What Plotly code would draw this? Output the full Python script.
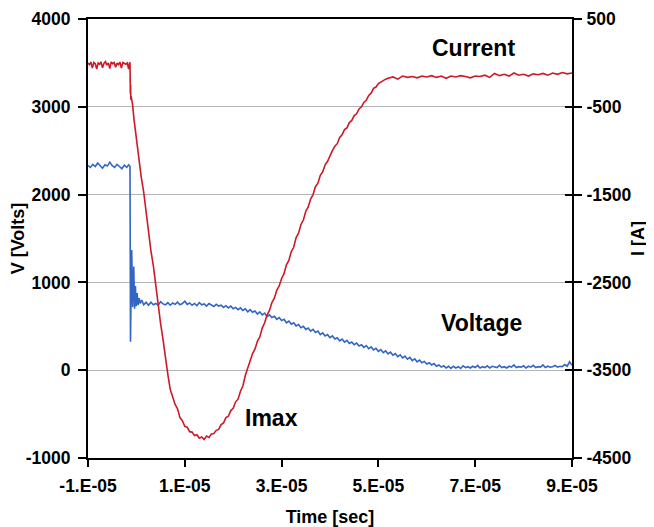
import plotly.graph_objects as go

# ---- data (time in microseconds) ----
current_t = [-10.0, -9.7, -9.4, -9.1, -8.8, -8.5, -8.2, -7.9, -7.6, -7.3, -7.0, -6.7, -6.4, -6.1,
             -5.8, -5.5, -5.2, -4.9, -4.6, -4.3, -4.0, -3.7, -3.4, -3.1, -2.8, -2.5, -2.2, -1.9,
             -1.6, -1.4, -1.32, -1.25, -1.2, -1.15, -1.1, -0.8, -0.5, 0.0, 0.5, 1.0, 1.5, 2.0, 2.5,
             3.0, 3.5, 4.0, 4.5, 5.0, 5.5, 6.0, 6.5, 7.0, 7.5, 8.0, 8.5, 9.0, 9.5, 10.0, 10.5,
             11.0, 11.5, 12.0, 12.5, 13.0, 13.5, 14.0, 14.5, 15.0, 15.5, 16.0, 16.5, 17.0, 17.5,
             18.0, 18.5, 19.0, 19.5, 20.0, 20.5, 21.0, 21.5, 22.0, 22.5, 23.0, 23.5, 24.0, 24.5,
             25.0, 25.5, 26.0, 26.5, 27.0, 27.5, 28.0, 28.5, 29.0, 29.5, 30.0, 30.5, 31.0, 31.5,
             32.0, 32.5, 33.0, 33.5, 34.0, 34.5, 35.0, 35.5, 36.0, 36.5, 37.0, 37.5, 38.0, 38.5,
             39.0, 39.5, 40.0, 40.5, 41.0, 41.5, 42.0, 42.5, 43.0, 43.5, 44.0, 44.5, 45.0, 45.5,
             46.0, 46.5, 47.0, 47.5, 48.0, 48.5, 49.0, 49.5, 50.0, 50.5, 51.0, 51.5, 52.0, 53.0,
             54.0, 55.0, 56.0, 57.0, 58.0, 59.0, 60.0, 61.0, 62.0, 63.0, 64.0, 65.0, 66.0, 67.0,
             68.0, 69.0, 70.0, 71.0, 72.0, 73.0, 74.0, 75.0, 76.0, 77.0, 78.0, 79.0, 80.0, 81.0,
             82.0, 83.0, 84.0, 85.0, 86.0, 87.0, 88.0, 89.0, 90.0]
current_i = [0, -20, 10, -60, 5, -10, -70, 0, -15, 10, -55, -5, 15, -25,
             0, -65, 10, -10, 5, -50, 0, -20, 10, -60, 5, -5, -15, 0,
             -70, 5, 0, -350, -250, -420, -380, -470, -640, -880, -1050, -1300, -1470, -1710, -1890,
             -2140, -2310, -2550, -2730, -2970, -3150, -3380, -3550, -3720, -3800, -3890, -3940, -4040, -4075, -4140, -4150,
             -4200, -4205, -4245, -4235, -4275, -4260, -4290, -4250, -4265, -4225, -4220, -4185, -4175, -4120,
             -4100, -4040, -4025, -3960, -3935, -3860, -3830, -3740, -3680, -3560, -3480, -3400, -3310, -3260,
             -3170, -3120, -3020, -2960, -2870, -2820, -2730, -2680, -2590, -2540, -2455, -2400, -2300, -2250,
             -2150, -2100, -1990, -1940, -1840, -1790, -1690, -1640, -1550, -1500, -1410, -1370, -1280, -1240,
             -1160, -1120, -1050, -1000, -950, -920, -850, -820, -760, -740, -680, -655, -600, -580,
             -525, -500, -450, -425, -370, -345, -290, -275, -235, -215, -195, -185, -175, -160,
             -185, -150, -165, -155, -170, -150, -160, -145, -165, -150, -175, -150, -160, -145,
             -155, -170, -150, -155, -140, -165, -120, -145, -130, -150, -115, -140, -130, -150,
             -125, -135, -120, -140, -115, -130, -110, -125, -115]

voltage_t = [-10.0, -9.5, -9.0, -8.5, -8.0, -7.5, -7.0, -6.5, -6.0, -5.5, -5.0, -4.5, -4.0, -3.5,
             -3.0, -2.5, -2.0, -1.6, -1.32, -1.28, -1.22, -1.1, -0.97, -0.78, -0.55, -0.38, -0.2,
             -0.05, 0.15, 0.35, 0.55, 0.8, 1.1, 1.5, 2.0, 2.5,
             3.0, 3.5, 4.0, 4.5, 5.0, 5.5, 6.0, 6.5, 7.0, 7.5, 8.0, 8.5, 9.0, 9.5,
             10.0, 10.5, 11.0, 11.5, 12.0, 12.5, 13.0, 13.5, 14.0, 14.5, 15.0, 15.5, 16.0, 16.5,
             17.0, 17.5, 18.0, 18.5, 19.0, 19.5, 20.0, 20.5, 21.0, 21.5, 22.0, 22.5, 23.0, 23.5,
             24.0, 24.5, 25.0, 25.5, 26.0, 26.5, 27.0, 27.5, 28.0, 28.5, 29.0, 29.5, 30.0, 30.5,
             31.0, 31.5, 32.0, 32.5, 33.0, 33.5, 34.0, 34.5, 35.0, 35.5, 36.0, 36.5, 37.0, 37.5,
             38.0, 38.5, 39.0, 39.5, 40.0, 40.5, 41.0, 41.5, 42.0, 42.5, 43.0, 43.5, 44.0, 44.5,
             45.0, 45.5, 46.0, 46.5, 47.0, 47.5, 48.0, 48.5, 49.0, 49.5, 50.0, 50.5, 51.0, 51.5,
             52.0, 52.5, 53.0, 53.5, 54.0, 54.5, 55.0, 55.5, 56.0, 56.5, 57.0, 57.5, 58.0, 58.5,
             59.0, 59.5, 60.0, 60.5, 61.0, 61.5, 62.0, 62.5, 63.0, 63.5, 64.0, 64.5, 65.0, 65.5,
             66.0, 66.5, 67.0, 67.5, 68.0, 68.5, 69.0, 69.5, 70.0, 70.5, 71.0, 71.5, 72.0, 72.5,
             73.0, 73.5, 74.0, 74.5, 75.0, 75.5, 76.0, 76.5, 77.0, 77.5, 78.0, 78.5, 79.0, 79.5,
             80.0, 80.5, 81.0, 81.5, 82.0, 82.5, 83.0, 83.5, 84.0, 84.5, 85.0, 85.5, 86.0, 86.5,
             87.0, 87.5, 88.0, 88.5, 89.0, 89.5, 90.0]
voltage_v = [2330, 2310, 2345, 2320, 2360, 2335, 2300, 2340, 2325, 2370, 2330, 2310, 2345, 2320,
             2295, 2335, 2310, 2340, 2320, 1500, 325, 900, 1369, 720, 1180, 700, 960,
             730, 880, 740, 820, 760, 800, 745, 775, 740,
             775, 745, 760, 740, 780, 755, 745, 770, 740, 765, 750, 775, 745, 760,
             785, 750, 765, 740, 760, 735, 770, 745, 755, 730, 760, 740, 725, 750,
             730, 740, 715, 735, 710, 730, 700, 715, 690, 710, 680, 700, 665, 690,
             660, 675, 640, 665, 630, 650, 610, 630, 600, 615, 580, 600, 565, 580,
             540, 560, 525, 540, 505, 520, 485, 500, 465, 480, 445, 465, 430, 445,
             405, 425, 390, 405, 370, 390, 355, 370, 335, 355, 320, 340, 305, 320,
             290, 310, 275, 290, 260, 280, 245, 265, 230, 250, 215, 235, 200, 220,
             185, 205, 170, 190, 155, 175, 140, 160, 125, 145, 110, 130, 95, 115,
             85, 100, 70, 85, 60, 75, 45, 60, 35, 50, 25, 45, 20, 45,
             25, 40, 20, 50, 30, 40, 25, 45, 30, 55, 25, 40, 30, 50,
             25, 45, 35, 30, 55, 30, 40, 25, 45, 35, 60, 30, 40, 35,
             50, 25, 45, 35, 55, 30, 40, 35, 60, 30, 45, 35, 40, 55,
             35, 45, 40, 65, 45, 95, 55]

x_tick_vals = [-10, 10, 30, 50, 70, 90]
x_tick_text = ["-1.E-05", "1.E-05", "3.E-05", "5.E-05", "7.E-05", "9.E-05"]
v_tick_vals = [-1000, 0, 1000, 2000, 3000, 4000]
v_tick_text = ["-1000", "0", "1000", "2000", "3000", "4000"]
i_tick_vals = [-4500, -3500, -2500, -1500, -500, 500]
i_tick_text = ["-4500", "-3500", "-2500", "-1500", "-500", "500"]

RED = "#CC1A28"
BLUE = "#3366C4"
FONT = "Liberation Sans"
tickfont = dict(family=FONT, size=17.5, color="black", weight="bold")
titlefont = dict(family=FONT, size=18, color="black", weight="bold")

fig = go.Figure()
fig.add_trace(go.Scatter(x=voltage_t, y=voltage_v, mode="lines", name="Voltage",
                         line=dict(color=BLUE, width=1.6), yaxis="y"))
fig.add_trace(go.Scatter(x=current_t, y=current_i, mode="lines", name="Current",
                         line=dict(color=RED, width=1.6), yaxis="y2"))

# page body has an 8px margin, so the figure is sized/offset to compensate
fig.update_layout(
    width=646, height=519,
    margin=dict(l=80, r=82, t=11, b=69, autoexpand=False),
    paper_bgcolor="white", plot_bgcolor="white",
    showlegend=False,
    xaxis=dict(range=[-10, 90], tickvals=x_tick_vals, ticktext=x_tick_text,
               ticks="outside", ticklen=7, tickwidth=2, tickcolor="black",
               showline=True, linecolor="black", linewidth=2, mirror=True,
               showgrid=False, zeroline=False, tickfont=tickfont, automargin=False,
               ticklabelstandoff=4,
               title=dict(text="Time [sec]", font=titlefont, standoff=15)),
    yaxis=dict(range=[-1000, 4000], tickvals=v_tick_vals, ticktext=v_tick_text,
               ticks="outside", ticklen=8, tickwidth=2, tickcolor="black",
               showline=True, linecolor="black", linewidth=2, mirror="allticks",
               showgrid=True, gridcolor="#B4B4B4", gridwidth=1.2, zeroline=False,
               tickfont=tickfont, ticklabelstandoff=4, automargin=False,
               title=dict(text="V [Volts]", font=titlefont, standoff=0)),
    yaxis2=dict(range=[-4500, 500], tickvals=i_tick_vals, ticktext=i_tick_text,
                overlaying="y", side="right",
                ticks="inside", ticklen=7, tickwidth=2, tickcolor="black",
                showline=True, linecolor="black", linewidth=2, automargin=False,
                showgrid=False, zeroline=False, tickfont=tickfont, ticklabelstandoff=9,
                title=dict(text="I [A]", font=titlefont, standoff=1)),
)

annfont = dict(family=FONT, size=23, color="black", weight="bold")
fig.add_annotation(x=69.75, y=3670, xref="x", yref="y", text="Current", showarrow=False, font=annfont)
fig.add_annotation(x=71.4, y=538, xref="x", yref="y", text="Voltage", showarrow=False, font=annfont)
fig.add_annotation(x=28.0, y=-544, xref="x", yref="y", text="Imax", showarrow=False, font=annfont)

fig.write_html("out.html")
